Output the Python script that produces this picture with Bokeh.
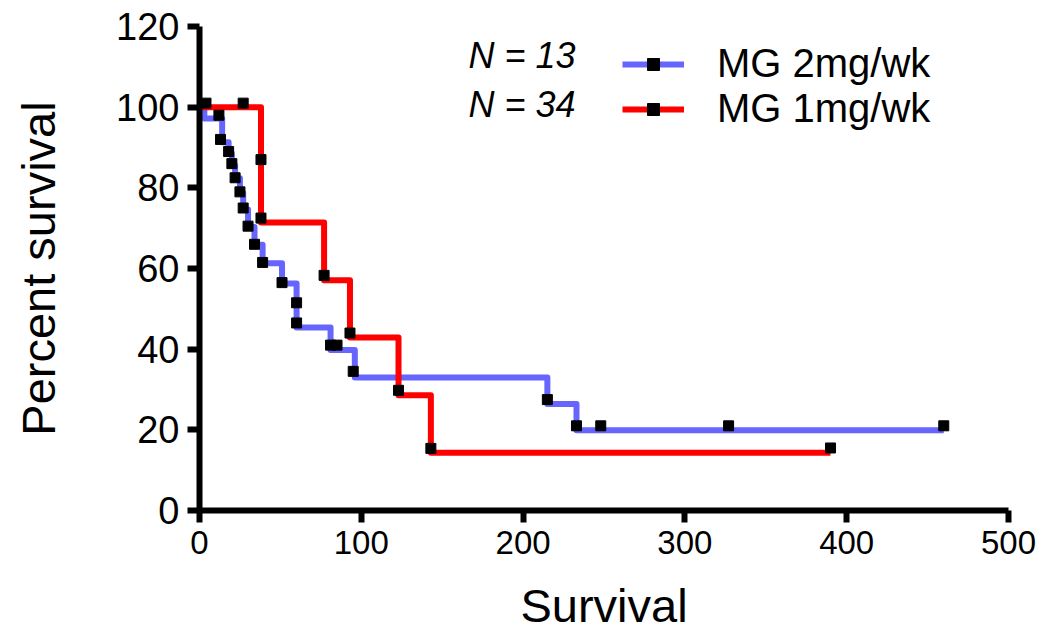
from bokeh.plotting import figure
from bokeh.models import Range1d, Legend, LegendItem, Label, FixedTicker
from bokeh.embed import file_html
from bokeh.resources import INLINE

# ---- data ----
blue_time = [0, 3, 14, 18, 20, 22, 25, 27, 30, 34, 39, 51, 60, 60, 81, 96, 215, 233, 248, 327, 460]
blue_surv = [100, 97.2, 91.3, 88.6, 85.6, 82.4, 78.8, 74.6, 70.3, 65.9, 61.3, 56.3, 51.0, 45.4, 39.8, 33.0, 26.4, 19.9, 19.9, 19.9, 19.9]
blue_mark_time = [4, 12, 13, 18, 20, 22, 25, 27, 30, 34, 39, 51, 60, 60, 81, 85, 95, 215, 233, 248, 327, 460]
blue_mark_surv = [101, 98, 92, 89, 86, 82.5, 79, 75, 70.5, 66, 61.5, 56.5, 51.5, 46.5, 41, 41, 34.5, 27.5, 21, 21, 21, 21]

red_time = [0, 38, 38, 77, 93, 123, 143, 390]
red_surv = [100, 85.7, 71.4, 57.1, 42.9, 28.6, 14.3, 14.3]
red_mark_time = [27, 38, 38, 77, 93, 123, 143, 390]
red_mark_surv = [101, 87, 72.5, 58.3, 44, 29.8, 15.4, 15.5]

series_names = ["MG 2mg/wk", "MG 1mg/wk"]
series_n = ["N = 13", "N = 34"]
x_ticks = [0, 100, 200, 300, 400, 500]
y_ticks = [0, 20, 40, 60, 80, 100, 120]

BLUE = "#6666FF"
RED = "#FF0000"
FONT = "Liberation Sans"

p = figure(width=1037, height=636, output_backend="svg", toolbar_location=None,
           x_range=Range1d(0, 500), y_range=Range1d(0, 120),
           min_border_left=199, min_border_right=29, min_border_top=26, min_border_bottom=126)
p.outline_line_color = None
p.xgrid.visible = False
p.ygrid.visible = False
p.background_fill_color = "white"
p.border_fill_color = "white"

for ax in (p.xaxis[0], p.yaxis[0]):
    ax.axis_line_width = 6
    ax.axis_line_color = "black"
    ax.major_tick_line_width = 6
    ax.major_tick_line_color = "black"
    ax.major_tick_out = 12
    ax.major_tick_in = 0
    ax.minor_tick_line_color = None
    ax.major_label_text_font = FONT
    ax.major_label_text_color = "black"
    ax.axis_label_text_font = FONT
    ax.axis_label_text_font_style = "normal"
    ax.axis_label_text_font_size = "47px"
    ax.axis_label_text_color = "black"

p.xaxis.ticker = FixedTicker(ticks=x_ticks)
p.yaxis.ticker = FixedTicker(ticks=y_ticks)
p.xaxis.major_label_text_font_size = "33px"
p.yaxis.major_label_text_font_size = "38px"
p.xaxis.major_label_standoff = 8
p.yaxis.major_label_standoff = 8
p.xaxis.axis_label = "Survival"
p.yaxis.axis_label = "Percent survival"
p.xaxis.axis_label_standoff = 22
p.yaxis.axis_label_standoff = 48

bl = p.step(blue_time, blue_surv, mode="after", line_color=BLUE, line_width=6, line_join="round")
rl = p.step(red_time, red_surv, mode="after", line_color=RED, line_width=6, line_join="round")
bm = p.scatter(blue_mark_time, blue_mark_surv, marker="square", size=10, color="black")
rm = p.scatter(red_mark_time, red_mark_surv, marker="square", size=10, color="black")

legend = Legend(items=[LegendItem(label=series_names[0], renderers=[bl, bm]),
                       LegendItem(label=series_names[1], renderers=[rl, rm])],
                location=(423, 379), padding=0, margin=0, spacing=0,
                glyph_width=62, glyph_height=30, label_height=30, label_standoff=33,
                label_text_font=FONT, label_text_font_size="40px", label_text_color="black",
                border_line_color=None, background_fill_alpha=0)
p.add_layout(legend)

for txt, ys in zip(series_n, (455, 406)):
    p.add_layout(Label(x=376, y=ys, x_units="screen", y_units="screen", text=txt,
                       text_align="right", text_baseline="middle", text_font=FONT,
                       text_font_style="italic", text_font_size="36px", text_color="black"))

open("out.html", "w").write(file_html(p, INLINE))
